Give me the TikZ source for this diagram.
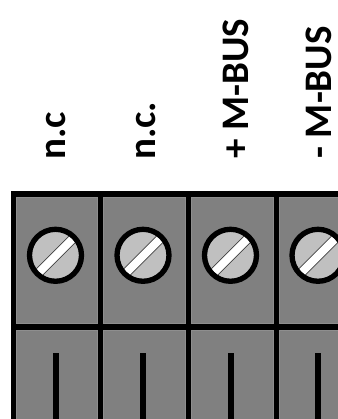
\documentclass[tikz,border=0pt]{standalone}
\usepackage{fontspec}
\setmainfont{Carlito}
\definecolor{cellgray}{HTML}{808080}
\definecolor{celledge}{HTML}{8E8E8E}
\definecolor{screwgray}{HTML}{C0C0C0}
\begin{document}
\begin{tikzpicture}[x=1pt,y=-1pt,
  cellfill/.style={fill=cellgray, draw=celledge, line width=0.8pt},
  pinbar/.style={fill=black},
  ring/.style={draw=black, line width=5.3pt},
  slotline/.style={draw=black!75, line width=0.8pt},
  tag/.style={rotate=90, anchor=base west, inner sep=0pt,
    font=\fontsize{39}{39}\selectfont\bfseries},
]
\useasboundingbox (0,0) rectangle (337,419);

% terminal block body with its black frame
\fill[black] (11,191.5) rectangle (345,425);
\foreach \xa/\xb in {16/97.5, 103/185, 191/273.5, 279.5/350} {
  \path[cellfill] (\xa,197) rectangle (\xb,323);
  \path[cellfill] (\xa,330) rectangle (\xb,425);
}

% clamp screws and wire entries
\foreach \cx in {55.5,143,230.5,318} {
  \begin{scope}[shift={(\cx,255.3)}, rotate=45]
    \clip (0,0) circle (23.5);
    \fill[screwgray] (-30,-30) rectangle (30,30);
    \fill[white] (-30,-4) rectangle (30,5);
    \draw[slotline] (-30,-4) -- (30,-4);
    \draw[slotline] (-30,5) -- (30,5);
  \end{scope}
  \draw[ring] (\cx,255.3) circle (26);
  \fill[pinbar] (\cx-3,352.5) rectangle (\cx+3,425);
}

% terminal labels
\node[tag] (nc1) at (65,160) {n.c};
\node[tag] (nc2) at (155,160) {n.c.};
\node[tag] (mbp) at (248,159) {+ M-BUS};
\node[tag] (mbm) at (331.5,159) {- M-BUS};
\end{tikzpicture}
\end{document}
